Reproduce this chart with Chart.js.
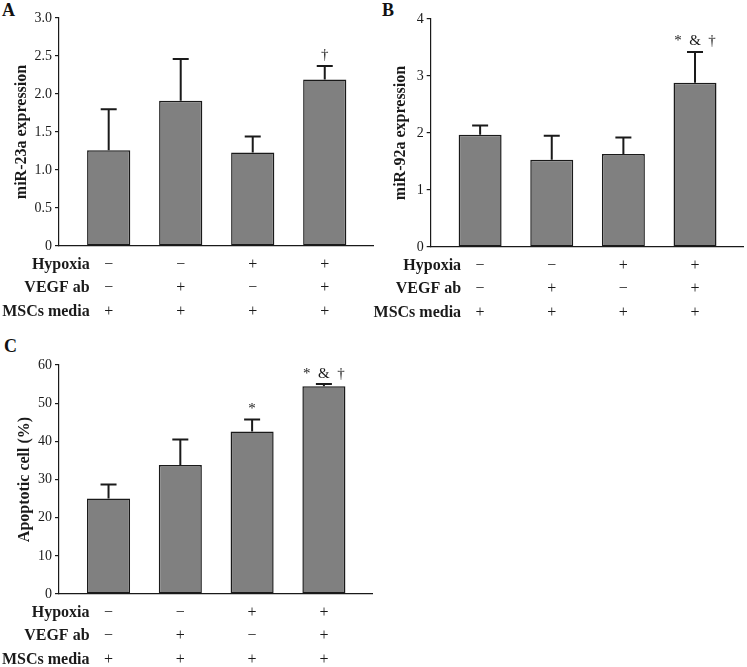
<!DOCTYPE html>
<html>
<head>
<meta charset="utf-8">
<script src="https://cdn.jsdelivr.net/npm/chart.js@4.4.1/dist/chart.umd.min.js"></script>
<style>
  html, body { margin: 0; padding: 0; background: #fff; }
  body { width: 747px; height: 667px; position: relative; overflow: hidden; }
  canvas { position: absolute; }
  .panel-letter { position: absolute; font: bold 18px "Liberation Serif", serif; color: #111; }
</style>
</head>
<body>
<div class="panel-letter" style="left:2px; top:0px;">A</div>
<div class="panel-letter" style="left:382px; top:0px;">B</div>
<div class="panel-letter" style="left:4px; top:336px;">C</div>
<canvas id="chartA" width="380" height="330" style="left:0; top:0;"></canvas>
<canvas id="chartB" width="387" height="330" style="left:360px; top:0;"></canvas>
<canvas id="chartC" width="380" height="342" style="left:0; top:325px;"></canvas>
<script>
// Treatment table under each panel
const rowLabels = ['Hypoxia', 'VEGF ab', 'MSCs media'];
const hypoxiaSigns = ['\u2212', '\u2212', '+', '+'];
const vegfSigns = ['\u2212', '+', '\u2212', '+'];
const mediaSigns = ['+', '+', '+', '+'];

// Panel A: miR-23a expression
const mir23aMeans = [1.26, 1.91, 1.23, 2.19];
const mir23aErrors = [0.54, 0.55, 0.21, 0.18];
const mir23aMarks = ['', '', '', '\u2020'];
const mir23aTicks = [0, 0.5, 1, 1.5, 2, 2.5, 3];

// Panel B: miR-92a expression
const mir92aMeans = [1.97, 1.53, 1.63, 2.88];
const mir92aErrors = [0.16, 0.42, 0.29, 0.54];
const mir92aMarks = ['', '', '', '*  &  \u2020'];
const mir92aTicks = [0, 1, 2, 3, 4];

// Panel C: apoptotic cells
const apoptosisMeans = [25.0, 33.8, 42.6, 54.4];
const apoptosisErrors = [3.7, 6.7, 3.1, 0.6];
const apoptosisMarks = ['', '', '*', '*  &  \u2020'];
const apoptosisTicks = [0, 10, 20, 30, 40, 50, 60];

const SERIF = '"Liberation Serif", "Times New Roman", serif';
const INK = '#1a1a1a';
const ROW_HEIGHT = 23.5;
const TICK_PAD = 7;

/**
 * Draws upper error bars, significance marks and the row labels of the table.
 */
const extrasPlugin = {
  id: 'extras',
  afterDatasetsDraw(chart, args, opts) {
    const ctx = chart.ctx;
    const x = chart.scales.x;
    const y = chart.scales.y;
    ctx.save();
    ctx.strokeStyle = INK;
    ctx.lineWidth = 2;
    opts.means.forEach((m, i) => {
      const px = x.getPixelForValue(i);
      const yBar = y.getPixelForValue(m);
      const yTop = y.getPixelForValue(m + opts.errors[i]);
      ctx.beginPath();
      ctx.moveTo(px, yBar);
      ctx.lineTo(px, yTop);
      ctx.moveTo(px - 8, yTop);
      ctx.lineTo(px + 8, yTop);
      ctx.stroke();
      if (opts.marks[i]) {
        ctx.fillStyle = INK;
        ctx.font = '15px ' + SERIF;
        ctx.textAlign = 'center';
        ctx.textBaseline = 'bottom';
        ctx.fillText(opts.marks[i], px, yTop - 3);
      }
    });
    ctx.restore();
  },
  afterDraw(chart) {
    const ctx = chart.ctx;
    const x = chart.scales.x;
    const labelRight = x.getPixelForValue(0) - 19;
    ctx.save();
    ctx.fillStyle = INK;
    ctx.font = 'bold 16px ' + SERIF;
    ctx.textAlign = 'right';
    ctx.textBaseline = 'middle';
    rowLabels.forEach((label, r) => {
      ctx.fillText(label, labelRight, x.top + TICK_PAD + ROW_HEIGHT * (r + 0.5));
    });
    ctx.restore();
  }
};

function makePanel(canvasId, p) {
  const ctx = document.getElementById(canvasId).getContext('2d');
  return new Chart(ctx, {
    type: 'bar',
    data: {
      datasets: [{
        data: p.means.map((v, i) => ({ x: i, y: v })),
        backgroundColor: '#808080',
        borderColor: INK,
        borderWidth: 1.5,
        borderSkipped: false,
        barPercentage: 0.6,
        categoryPercentage: 1
      }]
    },
    plugins: [extrasPlugin],
    options: {
      responsive: false,
      animation: false,
      layout: { padding: { left: 0, top: p.padTop, right: p.padRight, bottom: 0 } },
      plugins: {
        legend: { display: false },
        tooltip: { enabled: false },
        extras: { means: p.means, errors: p.errors, marks: p.marks }
      },
      scales: {
        x: {
          type: 'linear',
          offset: false,
          min: -0.69,
          max: 3.67,
          grid: { display: false, drawTicks: false, offset: false },
          border: { display: true, color: INK, width: 1.2 },
          afterBuildTicks: (scale) => { scale.ticks = [0, 1, 2, 3].map(v => ({ value: v })); },
          afterFit: (scale) => { scale.height = p.xHeight; },
          ticks: {
            autoSkip: false,
            maxRotation: 0,
            padding: TICK_PAD,
            color: INK,
            font: { family: SERIF, size: 16, lineHeight: ROW_HEIGHT / 16 },
            callback: (v) => [hypoxiaSigns[v], vegfSigns[v], mediaSigns[v]]
          }
        },
        y: {
          min: p.ticks[0],
          max: p.ticks[p.ticks.length - 1],
          afterBuildTicks: (scale) => { scale.ticks = p.ticks.map(v => ({ value: v })); },
          afterFit: (scale) => { scale.width = p.yWidth; },
          grid: { display: true, drawOnChartArea: false, drawTicks: true, tickLength: 4, color: INK, lineWidth: 1.2 },
          border: { display: true, color: INK, width: 1.2 },
          ticks: {
            padding: 3,
            color: INK,
            font: { family: SERIF, size: 14 },
            callback: p.format
          },
          title: {
            display: true,
            text: p.title,
            color: INK,
            font: { family: SERIF, size: 16, weight: 'bold' },
            padding: { top: p.titlePad, bottom: 0 }
          }
        }
      }
    }
  });
}

makePanel('chartA', {
  means: mir23aMeans, errors: mir23aErrors, marks: mir23aMarks, ticks: mir23aTicks,
  title: 'miR-23a expression',
  format: (v) => (v === 0 ? '0' : v.toFixed(1)),
  padTop: 18, padRight: 7, xHeight: 84, yWidth: 59, titlePad: 12.5
});

makePanel('chartB', {
  means: mir92aMeans, errors: mir92aErrors, marks: mir92aMarks, ticks: mir92aTicks,
  title: 'miR-92a expression',
  format: (v) => String(v),
  padTop: 19, padRight: 4, xHeight: 83, yWidth: 70.7, titlePad: 31.4
});

makePanel('chartC', {
  means: apoptosisMeans, errors: apoptosisErrors, marks: apoptosisMarks, ticks: apoptosisTicks,
  title: 'Apoptotic cell (%)',
  format: (v) => String(v),
  padTop: 40, padRight: 8, xHeight: 73, yWidth: 59, titlePad: 15.4
});
</script>
</body>
</html>
